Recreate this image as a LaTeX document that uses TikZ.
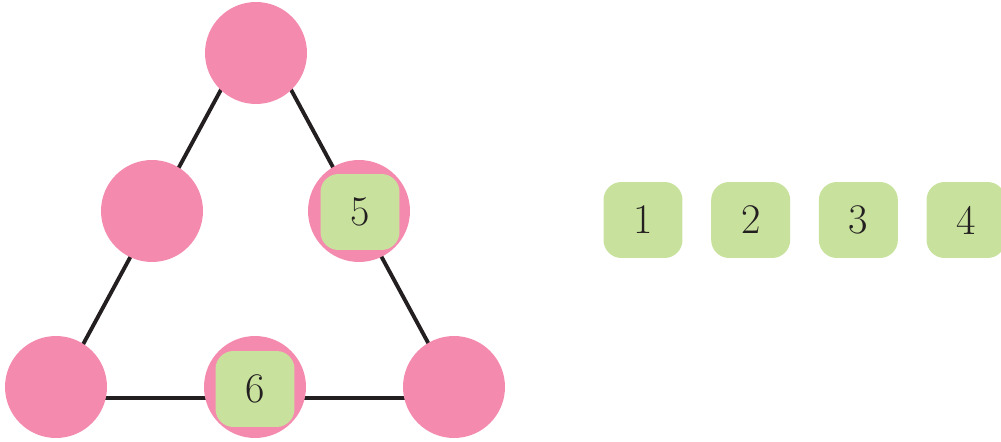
\documentclass[tikz,border=0pt]{standalone}
\usepackage{tikz}
\usetikzlibrary{positioning}

\definecolor{spotpink}{RGB}{244,139,174}
\definecolor{tilegreen}{RGB}{200,226,158}
\definecolor{inkdark}{RGB}{35,31,32}

\tikzset{
  spot/.style={circle, fill=spotpink, minimum size=2.04cm, inner sep=0pt},
  tile/.style={rectangle, rounded corners=0.36cm, fill=tilegreen,
    minimum width=1.58cm, minimum height=1.52cm, inner sep=0pt,
    text=inkdark, font=\fontsize{24}{26}\selectfont},
  side/.style={line width=2.2pt, draw=inkdark}
}

\begin{document}
\begin{tikzpicture}[x=0.02cm, y=-0.02cm]
    \useasboundingbox (0,0) rectangle (1001,442);

    % Corners of the triangle
    \coordinate (apex) at (256,25);
    \coordinate (baseL) at (54,398);
    \coordinate (baseR) at (458,398);

    % Sides
    \draw[side] (apex) -- (baseL) -- (baseR) -- cycle;

    % Circles
    \node[spot] (top) at (256,53) {};
    \node[spot] (midL) at (152,211) {};
    \node[spot] (midR) at (359,211) {};
    \node[spot] (botL) at (56,387) {};
    \node[spot] (botM) at (255,387) {};
    \node[spot] (botR) at (454,387) {};

    % Tiles already placed
    \node[tile] (five) at (360,212) {5};
    \node[tile] (six) at (255,389) {6};

    % Tiles left to place
    \node[tile] (one) at (643,220) {1};
    \node[tile, right=0.56cm of one] (two) {2};
    \node[tile, right=0.56cm of two] (three) {3};
    \node[tile, right=0.56cm of three] (four) {4};
\end{tikzpicture}
\end{document}
